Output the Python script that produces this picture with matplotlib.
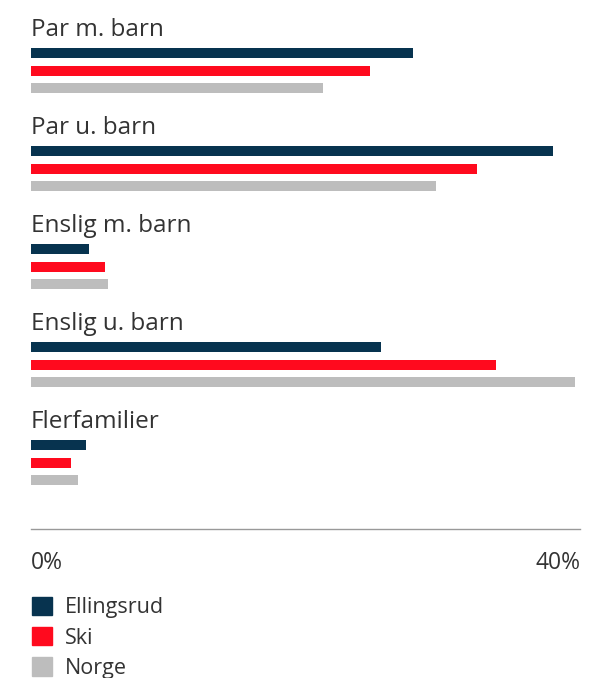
import matplotlib
matplotlib.use("Agg")
import matplotlib.pyplot as plt
import matplotlib.patches as mpatches
import numpy as np

categories = ["Par m. barn", "Par u. barn", "Enslig m. barn", "Enslig u. barn", "Flerfamilier"]
series_names = ["Ellingsrud", "Ski", "Norge"]
ellingsrud = [27.8, 38.0, 4.2, 25.5, 4.0]
ski = [24.7, 32.5, 5.4, 33.9, 2.9]
norge = [21.3, 29.5, 5.6, 39.6, 3.4]
colors = ["#07334f", "#ff0a1e", "#bdbdbd"]
tick_vals = [0, 40]
tick_labels = ["0%", "40%"]

plt.rcParams['font.family'] = ['Open Sans', 'DejaVu Sans']
text_color = "#333333"

W, H = 595, 678
fig = plt.figure(figsize=(W / 100, H / 100), dpi=100)

# axes spans from x=31..580 px, y=0..529 px (from top)
ax = fig.add_axes([31 / W, (H - 529) / H, (580 - 31) / W, 529 / H])

pitch = 98.0           # px between groups
offsets = np.array([0, 17.5, 35]) / pitch
bar_h = 10 / pitch

for j, vals in enumerate([ellingsrud, ski, norge]):
    y = np.arange(len(categories)) + offsets[j]
    ax.barh(y, vals, height=bar_h, color=colors[j], label=series_names[j])

for i, cat in enumerate(categories):
    ax.text(0, i - 17 / pitch, cat, fontsize=17.5, color=text_color,
            ha="left", va="baseline")

ax.set_xlim(0, 40)
ax.set_ylim(529 / pitch - 53 / pitch, -53 / pitch)

for s in ["top", "right", "left"]:
    ax.spines[s].set_visible(False)
ax.spines["bottom"].set_color("#999999")
ax.spines["bottom"].set_linewidth(1)
ax.set_yticks([])
ax.set_xticks(tick_vals)
ax.set_xticklabels(tick_labels, fontsize=16.5, color=text_color)
ax.tick_params(axis="x", length=0, pad=16)
labs = ax.get_xticklabels()
labs[0].set_horizontalalignment("left")
labs[-1].set_horizontalalignment("right")

handles = [mpatches.Patch(color=c, label=n) for c, n in zip(colors, series_names)]
leg = fig.legend(handles=handles, loc="upper left",
                 bbox_to_anchor=(23 / W, (H - 588) / H),
                 frameon=False, fontsize=15.5, handlelength=0.95, handleheight=0.95,
                 handletextpad=0.6, labelspacing=0.4, borderaxespad=0)
for t in leg.get_texts():
    t.set_color(text_color)

fig.savefig("out.png", dpi=100)
